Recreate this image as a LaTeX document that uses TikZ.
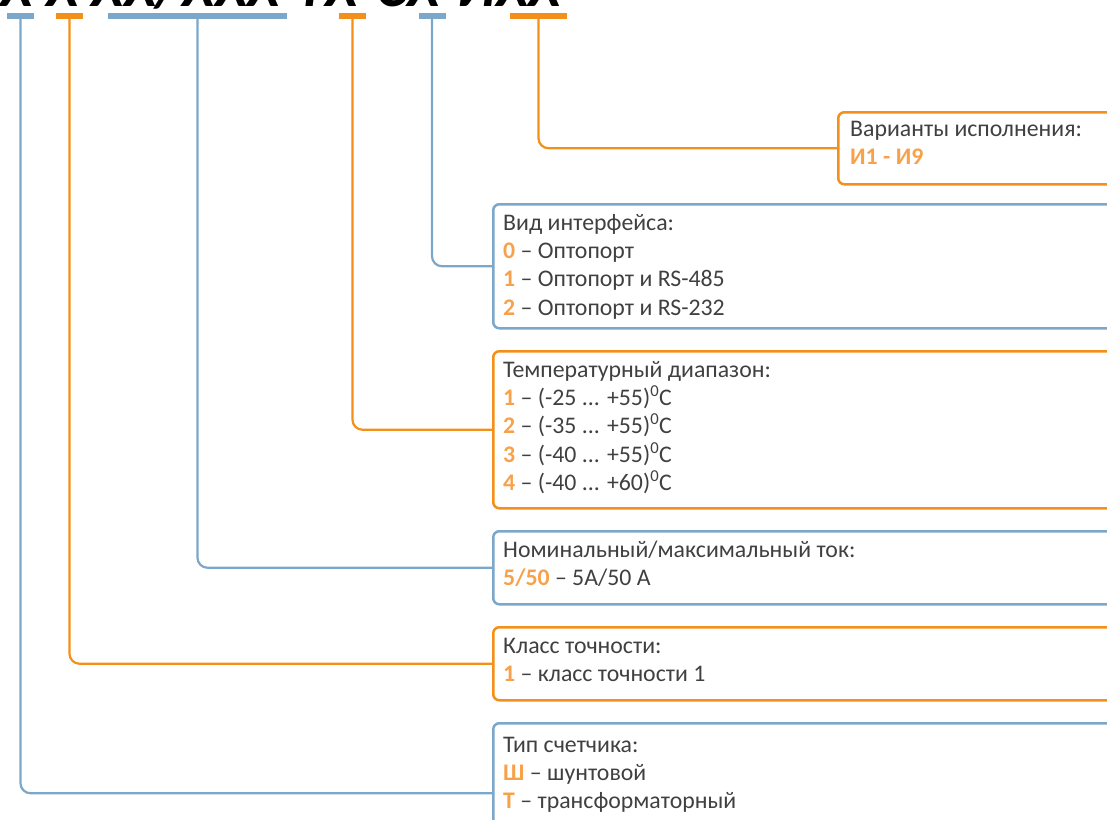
\documentclass[tikz,border=0pt]{standalone}
\usepackage{fontspec}
\setmainfont{Carlito}
\definecolor{txt}{HTML}{404040}
\definecolor{org}{HTML}{F39019}
\definecolor{orgl}{HTML}{F7A24B}
\definecolor{blu}{HTML}{7BA7CB}
\newcommand{\hl}[1]{\textbf{\color{orgl}#1}}
\tikzset{
  barB/.style={fill=blu, draw=none, inner sep=0pt, minimum height=6pt},
  barO/.style={fill=org, draw=none, inner sep=0pt, minimum height=6pt},
  connB/.style={draw=blu, line width=2.2pt, rounded corners=10pt},
  connO/.style={draw=org, line width=2.2pt, rounded corners=10pt},
  boxB/.style={draw=blu, line width=2.5pt, rounded corners=6pt, anchor=north west, inner sep=0pt, minimum width=700pt},
  boxO/.style={draw=org, line width=2.5pt, rounded corners=6pt, anchor=north west, inner sep=0pt, minimum width=700pt},
  txtn/.style={anchor=base west, inner sep=0pt, text=txt, font=\fontsize{23.8}{28.4}\selectfont},
}
\begin{document}
\begin{tikzpicture}[x=1pt,y=-1pt]
\useasboundingbox (0,0) rectangle (1107,819);
\clip (0,0) rectangle (1107,819);
% title (cut off)
\node[anchor=base west, inner sep=0pt, font=\fontsize{59}{64}\selectfont\bfseries\itshape] (title) at (0,6) {Х Х ХХ/ХХХ-ТХ-СХ-ИХХ};
% bars
\node[barB, minimum width=27pt] (k1) at (20.5,16) {};
\node[barO, minimum width=27pt] (k2) at (69.5,16) {};
\node[barB, minimum width=179pt] (k3) at (197.5,16) {};
\node[barO, minimum width=27pt] (k4) at (352.5,16) {};
\node[barB, minimum width=27pt] (k5) at (432,16) {};
\node[barO, minimum width=57pt] (k6) at (538.5,16) {};
% boxes
\node[boxO, minimum height=72pt] (b1) at (837,111) {};
\node[boxB, minimum height=124pt] (b2) at (492,203) {};
\node[boxO, minimum height=157pt] (b3) at (492,350) {};
\node[boxB, minimum height=73pt] (b4) at (492,530) {};
\node[boxO, minimum height=73pt] (b5) at (492,626) {};
\node[boxB, minimum height=140pt] (b6) at (492,722) {};
% texts
\node[txtn] (t1) at (850,136) {\begin{tabular}[t]{@{}l@{}}Варианты исполнения:\\ \hl{И1 - И9}\end{tabular}};
\node[txtn] (t2) at (503,230) {\begin{tabular}[t]{@{}l@{}}Вид интерфейса:\\ \hl{0} – Оптопорт\\ \hl{1} – Оптопорт и RS-485\\ \hl{2} – Оптопорт и RS-232\end{tabular}};
\node[txtn] (t3) at (503,377) {\begin{tabular}[t]{@{}l@{}}Температурный диапазон:\\ \hl{1} – (-25 ... +55)\textsuperscript{0}C\\ \hl{2} – (-35 ... +55)\textsuperscript{0}C\\ \hl{3} – (-40 ... +55)\textsuperscript{0}C\\ \hl{4} – (-40 ... +60)\textsuperscript{0}C\end{tabular}};
\node[txtn] (t4) at (503,557) {\begin{tabular}[t]{@{}l@{}}Номинальный/максимальный ток:\\ \hl{5/50} – 5А/50 А\end{tabular}};
\node[txtn] (t5) at (503,653) {\begin{tabular}[t]{@{}l@{}}Класс точности:\\ \hl{1} – класс точности 1\end{tabular}};
\node[txtn] (t6) at (503,752) {\begin{tabular}[t]{@{}l@{}}Тип счетчика:\\ \hl{Ш} – шунтовой\\ \hl{Т} – трансформаторный\end{tabular}};
% connectors
\draw[connB] (k1.south) |- (b6.west);
\draw[connO] (k2.south) |- (b5.west);
\draw[connB] (k3.south) |- (b4.west);
\draw[connO] (k4.south) |- (b3.west);
\draw[connB] (k5.south) |- (b2.west);
\draw[connO] (k6.south) |- (b1.west);
\end{tikzpicture}
\end{document}
